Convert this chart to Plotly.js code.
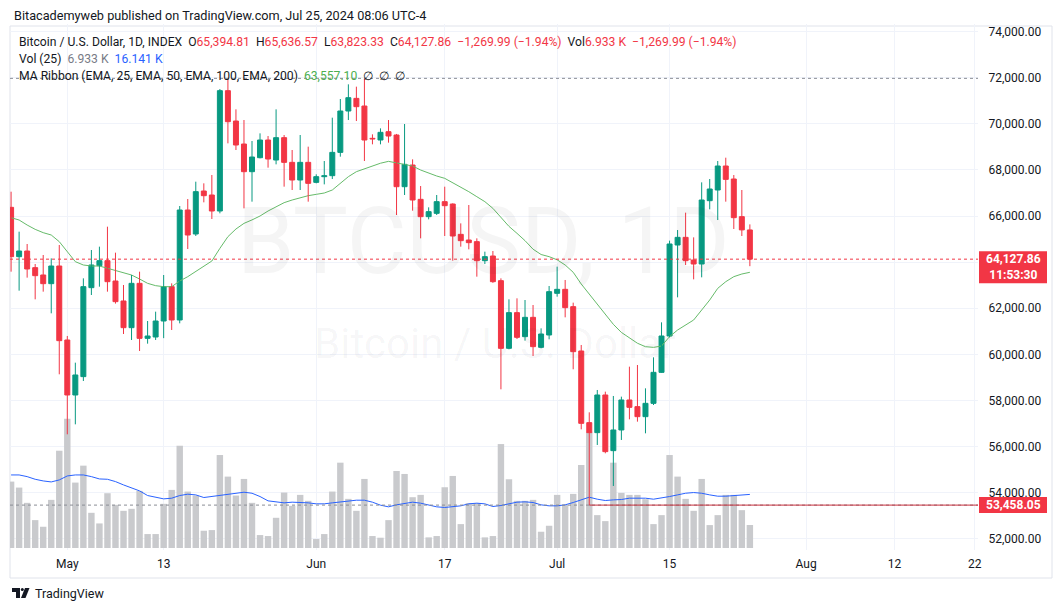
<!DOCTYPE html>
<html><head><meta charset="utf-8">
<script src="https://cdn.plot.ly/plotly-3.0.1.min.js"></script>
<style>html,body{margin:0;padding:0;background:#fff;}#chart{width:1060px;height:612px;}</style>
</head><body><div id="chart"></div>
<script>
// ---------- data ----------
const dates = [
'2024-04-24','2024-04-25','2024-04-26','2024-04-27','2024-04-28','2024-04-29','2024-04-30',
'2024-05-01','2024-05-02','2024-05-03','2024-05-04','2024-05-05','2024-05-06','2024-05-07','2024-05-08','2024-05-09','2024-05-10',
'2024-05-11','2024-05-12','2024-05-13','2024-05-14','2024-05-15','2024-05-16','2024-05-17','2024-05-18','2024-05-19','2024-05-20',
'2024-05-21','2024-05-22','2024-05-23','2024-05-24','2024-05-25','2024-05-26','2024-05-27','2024-05-28','2024-05-29','2024-05-30','2024-05-31',
'2024-06-01','2024-06-02','2024-06-03','2024-06-04','2024-06-05','2024-06-06','2024-06-07','2024-06-08','2024-06-09','2024-06-10',
'2024-06-11','2024-06-12','2024-06-13','2024-06-14','2024-06-15','2024-06-16','2024-06-17','2024-06-18','2024-06-19','2024-06-20',
'2024-06-21','2024-06-22','2024-06-23','2024-06-24','2024-06-25','2024-06-26','2024-06-27','2024-06-28','2024-06-29','2024-06-30',
'2024-07-01','2024-07-02','2024-07-03','2024-07-04','2024-07-05','2024-07-06','2024-07-07','2024-07-08','2024-07-09','2024-07-10',
'2024-07-11','2024-07-12','2024-07-13','2024-07-14','2024-07-15','2024-07-16','2024-07-17','2024-07-18','2024-07-19','2024-07-20',
'2024-07-21','2024-07-22','2024-07-23','2024-07-24','2024-07-25'];
const open = [
66376,64236,64482,63759,63441,63065,63831,
60621,58235,59031,62891,63846,64062,63180,62313,61156,63079,
60693,60751,61445,62935,61489,66260,65219,67085,66911,66217,
71437,70121,69123,67923,68530,69297,68429,69398,68328,67562,68328,
67460,67706,67750,68761,70555,71104,70771,69370,69297,69658,
69514,67272,68212,66723,65971,66116,66622,66520,65204,64959,
64887,64062,64265,63194,60260,61807,60766,61604,60303,60838,
62646,62819,62067,60144,57035,56601,58235,55820,56717,58018,
57729,57295,57873,59218,60794,64742,65074,64091,63918,66665,
67128,68169,67605,65971,65394.81];
const high = [
67055,65320,64785,63918,64308,64163,64742,
60795,59637,63296,64525,64670,65537,64410,63007,63440,63585,
61445,61850,63440,63079,66434,66738,67489,67417,67779,71509,
71943,70627,70165,69253,69586,69470,70627,69514,68863,69514,69008,
67808,68386,70266,71076,71712,71611,71972,69543,69803,70164,
69560,69991,68458,67301,66376,66911,67272,66550,65681,66477,
65031,64453,64482,63296,62385,62428,62356,62139,61127,62963,
63802,63224,62240,60404,57483,58452,58380,58192,58163,59464,
59536,58524,59869,61387,64930,65392,66145,65074,67460,67605,
68386,68530,67778,67128,65636.57];
const low = [
63585,62761,63325,62385,62718,61778,59132,
56529,56962,58842,62573,62934,62718,62200,60881,60621,60144,
60462,60621,60700,61055,61344,64568,65133,66593,65870,66116,
69152,68863,66332,66622,68501,68097,68241,67273,67128,67128,66622,
67417,67373,67605,68574,70164,70121,68386,69109,69109,69181,
66043,66911,66231,65031,65855,66043,65132,64062,64670,64554,
63368,63918,63100,58481,60216,60664,60592,59927,60259,60650,
62501,61604,59349,56745,53458.05,56066,55705,54287,56283,57179,
57078,56572,57801,59204,60737,62472,63874,63252,63339,66289,
65826,66622,65436,65132,63823.33];
const close = [
64236,64482,63701,63412,63065,63831,60592,
58235,59103,62934,63875,64062,63151,62284,61156,63079,60693,
60794,61445,62935,61489,66260,65176,67056,66882,66217,71437,
70092,69080,67923,68559,69297,68472,69398,68328,67562,68328,67417,
67706,67750,68761,70555,71133,70743,69297,69340,69630,69470,
67272,68241,66694,65971,66188,66622,66448,65132,64930,64843,
64062,64236,63151,60259,61807,60737,61604,60332,60881,62718,
62819,62024,60115,57006,56601,58235,55777,56717,58018,57700,
57295,57873,59218,60794,64786,65074,64062,63918,66694,67171,
68169,67590,65928,65397.85,64127.86];
const volumeK = [
20.0,18.2,13.6,8.4,6.4,14.5,29.3,
38.9,19.7,24.8,10.6,7.4,16.5,13.0,11.2,11.8,17.2,
4.2,4.2,13.3,17.5,30.8,17.0,15.8,5.2,5.4,28.0,
21.5,15.8,20.8,13.6,3.9,3.6,9.1,16.7,12.7,16.0,14.2,
2.7,4.2,17.0,25.7,14.8,11.2,20.8,3.6,3.1,8.4,
23.2,22.3,15.3,16.0,3.2,3.6,18.3,21.7,7.2,13.5,
13.5,3.2,3.6,31.3,20.7,14.2,14.2,14.5,4.9,6.7,
16.0,13.0,16.3,25.0,35.0,9.9,8.1,25.7,16.6,16.0,
16.0,14.7,7.2,9.9,28.0,21.5,14.8,11.2,20.8,6.9,
9.9,16.0,16.0,11.4,6.933];
const volumeMA25 = [
22.0,22.0,21.5,20.7,20.2,19.9,20.5,
21.7,22.0,22.0,21.5,20.8,20.7,20.0,19.0,18.1,17.2,
15.8,15.2,14.8,15.0,15.8,16.2,16.0,15.2,15.5,15.8,
16.2,16.5,16.8,16.5,15.5,14.2,13.8,13.6,13.8,13.8,13.6,
13.3,13.3,13.6,13.9,14.2,14.4,14.4,13.8,12.9,12.4,
13.0,13.5,13.8,13.5,13.0,12.4,12.2,12.4,12.7,13.3,
13.5,13.3,12.5,12.8,13.2,13.8,13.9,13.7,13.0,12.7,
12.7,13.0,13.7,14.5,15.3,14.7,14.3,14.5,14.6,15.0,
15.0,15.0,14.7,15.0,15.5,16.0,16.5,16.7,16.5,16.0,
15.6,15.6,15.8,15.9,16.141];
const ema25 = [
65928,65826,65609,65421,65277,65176,64887,
64453,64019,63874,63831,63831,63730,63614,63513,63440,63267,
63079,62978,62934,62934,63180,63368,63585,63802,64048,64597,
65104,65436,65681,65830,66000,66217,66405,66579,66694,66795,66882,
66940,66998,67128,67417,67706,67923,68039,68140,68290,68371,
68300,68255,68169,67995,67850,67735,67634,67446,67243,67055,
66838,66622,66332,65920,65550,65248,64930,64560,64330,64236,
64100,63874,63560,63050,62600,62200,61700,61300,60950,60700,
60480,60330,60300,60360,60765,61054,61271,61488,61922,62356,
62862,63151,63368,63484,63557.10];
const xTickDates = ['2024-05-01','2024-05-13','2024-06-01','2024-06-17','2024-07-01','2024-07-15','2024-08-01','2024-08-12','2024-08-22'];
const xTickLabels = ['May','13','Jun','17','Jul','15','Aug','12','22'];
const priceTicks = [52000,54000,56000,58000,60000,62000,64000,66000,68000,70000,72000,74000];
const countdown = '11:53:30';

// ---------- styling / geometry ----------
const UP = '#089981', DOWN = '#F23645';
const W = 1060, H = 612, L = 10, R = 978, T = 24, B = 550;
const px = x => (x - L) / (R - L);
const py = y => (B - y) / (B - T);
const DAY = 864e5;
const t0 = Date.UTC(2024, 4, 1);
const ms2s = ms => new Date(ms).toISOString().slice(0, 19).replace('T', ' ');
const xStart = ms2s(t0 - 7.136 * DAY), xEnd = ms2s(t0 + 113.41 * DAY);

const n = dates.length;
const isUp = close.map((c, i) => c >= open[i]);
const bodyBase = close.map((c, i) => Math.min(c, open[i]));
const bodyLen = close.map((c, i) => Math.abs(c - open[i]));
const bodyCol = isUp.map(u => u ? UP : DOWN);
function wicks(up) {
  const x = [], y = [];
  for (let i = 0; i < n; i++) if (isUp[i] === up) { x.push(dates[i], dates[i], null); y.push(low[i], high[i], null); }
  return {x, y};
}
const wu = wicks(true), wd = wicks(false);
const fmt = v => v.toLocaleString('en-US', {minimumFractionDigits: 2, maximumFractionDigits: 2});
const lastO = open[n-1], lastH = high[n-1], lastL = low[n-1], lastC = close[n-1];
const chg = lastC - close[n-2], pct = chg / close[n-2] * 100;
const sgn = v => (v < 0 ? '\u2212' : '+') + fmt(Math.abs(v));
const chgTxt = sgn(chg) + ' (' + (pct < 0 ? '\u2212' : '+') + Math.abs(pct).toFixed(2) + '%)';
const lowest = Math.min(...low), highest = Math.max(...high);
const lowDate = dates[low.indexOf(lowest)];
// tick labels hidden behind the last-price label (as in the reference)
const priceTickText = priceTicks.map(v => Math.abs(v - lastC) < 900 ? '' : fmt(v));

const traces = [
  {type: 'bar', x: dates, y: volumeK, yaxis: 'y', width: 0.8 * DAY, marker: {color: '#c9cacd', line: {width: 0}}, hoverinfo: 'skip'},
  {type: 'scatter', mode: 'lines', x: dates, y: volumeMA25, yaxis: 'y', line: {color: '#2962FF', width: 1}, hoverinfo: 'skip'},
  {type: 'scatter', mode: 'lines', x: dates, y: ema25, yaxis: 'y2', line: {color: '#66bb6a', width: 1}, hoverinfo: 'skip'},
  {type: 'scatter', mode: 'lines', x: wu.x, y: wu.y, yaxis: 'y2', line: {color: UP, width: 1}, connectgaps: false, hoverinfo: 'skip'},
  {type: 'scatter', mode: 'lines', x: wd.x, y: wd.y, yaxis: 'y2', line: {color: DOWN, width: 1}, connectgaps: false, hoverinfo: 'skip'},
  {type: 'bar', x: dates, y: bodyLen, base: bodyBase, yaxis: 'y2', width: 0.62 * DAY,
   marker: {color: bodyCol, line: {color: bodyCol, width: 1}}, hoverinfo: 'skip'}
];

const fontF = 'Roboto, "Liberation Sans", sans-serif';
const ann = (x, y, text, opt) => Object.assign({xref: 'paper', yref: 'paper', x: px(x), y: py(y), text, showarrow: false,
  xanchor: 'left', yanchor: 'middle', font: {family: fontF, size: 12.15, color: '#131722'}}, opt || {});
const S = '\u00a0';
const red = t => '<span style="color:#F23645">' + t + '</span>';

const annotations = [
  ann(12, 15, 'Bitacademyweb published on TradingView.com, Jul 25, 2024 08:06 UTC-4', {font: {family: fontF, size: 12.7, color: '#131722'}}),
  ann(17, 42, 'Bitcoin / U.S. Dollar, 1D, INDEX' + S + S + 'O' + red(fmt(lastO)) + S + S + 'H' + red(fmt(lastH)) + S + S + 'L' + red(fmt(lastL)) + S + S + 'C' + red(fmt(lastC)) + S + S + red(chgTxt) + S + S + 'Vol' + red(volumeK[n-1].toFixed(3) + S + 'K') + S + S + red(chgTxt)),
  ann(17, 59, 'Vol (25)' + S + S + '<span style="color:#787b86">' + volumeK[n-1].toFixed(3) + S + 'K</span>' + S + S + '<span style="color:#2962FF">' + volumeMA25[n-1].toFixed(3) + S + 'K</span>'),
  ann(17, 76, 'MA Ribbon (EMA, 25, EMA, 50, EMA, 100, EMA, 200)' + S + S + '<span style="color:#4CAF50">' + fmt(ema25[n-1]) + '</span>' + S + S + '\u2205' + S + S + '\u2205' + S + S + '\u2205'),
  // watermark
  ann(483, 241, 'BTCUSD, 1D', {xanchor: 'center', font: {family: fontF, size: 92, color: 'rgba(19,23,34,0.045)'}}),
  ann(495, 343, 'Bitcoin / U.S. Dollar', {xanchor: 'center', font: {family: fontF, size: 42, color: 'rgba(19,23,34,0.045)'}}),
  // price labels
  {xref: 'paper', yref: 'y2', x: px(1013), y: lastC, yshift: -8, xanchor: 'center', yanchor: 'middle', showarrow: false,
   text: '<b>' + fmt(lastC) + '</b><br><b>' + countdown + '</b>', font: {family: fontF, size: 12, color: '#ffffff'}},
  {xref: 'paper', yref: 'y2', x: px(1013), y: lowest, xanchor: 'center', yanchor: 'middle', showarrow: false,
   text: '<b>' + fmt(lowest) + '</b>', font: {family: fontF, size: 12, color: '#ffffff'}},
  // logo text
  ann(33, 593, 'TradingView', {font: {family: fontF, size: 12.5, color: '#131722'}})
];

const shapes = [
  {type: 'rect', xref: 'paper', yref: 'paper', x0: px(10), x1: px(1052), y0: py(26), y1: py(578), line: {color: '#e0e3eb', width: 1}, layer: 'below'},
  {type: 'line', xref: 'paper', yref: 'y2', x0: 0, x1: 1, y0: highest, y1: highest, line: {color: '#8a8d96', width: 1, dash: 'dot'}},
  {type: 'line', xref: 'paper', yref: 'y2', x0: 0, x1: 1, y0: lowest, y1: lowest, line: {color: '#8a8d96', width: 1, dash: 'dot'}},
  {type: 'line', xref: 'paper', yref: 'y2', x0: 0, x1: 1, y0: lastC, y1: lastC, line: {color: '#F23645', width: 1, dash: 'dot'}},
  {type: 'line', xref: 'x', yref: 'y2', x0: lowDate, x1: xEnd, y0: lowest, y1: lowest, line: {color: '#c8303c', width: 1}},
  {type: 'rect', xref: 'paper', yref: 'y2', ysizemode: 'pixel', yanchor: lastC, x0: px(979), x1: px(1047), y0: -24, y1: 8, fillcolor: '#F23645', line: {width: 0}},
  {type: 'rect', xref: 'paper', yref: 'y2', ysizemode: 'pixel', yanchor: lowest, x0: px(979), x1: px(1047), y0: -8, y1: 8, fillcolor: '#F23645', line: {width: 0}},
  // TradingView logo (simplified)
  {type: 'path', xref: 'paper', yref: 'paper', path: `M ${px(12)} ${py(588)} L ${px(20)} ${py(588)} L ${px(20)} ${py(598)} L ${px(16)} ${py(598)} L ${px(16)} ${py(592)} L ${px(12)} ${py(592)} Z`, fillcolor: '#131722', line: {width: 0}},
  {type: 'circle', xref: 'paper', yref: 'paper', x0: px(20.8), x1: px(23.8), y0: py(588), y1: py(591), fillcolor: '#131722', line: {width: 0}},
  {type: 'path', xref: 'paper', yref: 'paper', path: `M ${px(25)} ${py(588)} L ${px(29.5)} ${py(588)} L ${px(25.5)} ${py(598)} L ${px(21)} ${py(598)} Z`, fillcolor: '#131722', line: {width: 0}}
];

const layout = {
  width: W, height: H, margin: {l: L, r: W - R, t: T, b: H - B, pad: 0},
  paper_bgcolor: '#ffffff', plot_bgcolor: '#ffffff', showlegend: false, hovermode: false, barmode: 'overlay',
  font: {family: fontF, size: 12, color: '#131722'},
  xaxis: {type: 'date', range: [xStart, xEnd], tickmode: 'array', tickvals: xTickDates, ticktext: xTickLabels,
          showgrid: true, gridcolor: '#f0f3fa', gridwidth: 1, zeroline: false, showline: false,
          ticks: 'outside', ticklen: 3, tickcolor: 'rgba(0,0,0,0)', tickfont: {size: 12, color: '#131722'}, fixedrange: true},
  yaxis: {range: [-0.6, 157.8], visible: false, showgrid: false, zeroline: false, fixedrange: true},
  yaxis2: {overlaying: 'y', side: 'right', range: [51510, 74330], tickmode: 'array', tickvals: priceTicks,
           ticktext: priceTickText, showgrid: true, gridcolor: '#f0f3fa', zeroline: false, showline: false,
           ticks: 'outside', ticklen: 7, tickcolor: 'rgba(0,0,0,0)', tickfont: {size: 12, color: '#131722'}, fixedrange: true},
  annotations, shapes
};
Plotly.newPlot('chart', traces, layout, {displayModeBar: false, staticPlot: true});
</script></body></html>
